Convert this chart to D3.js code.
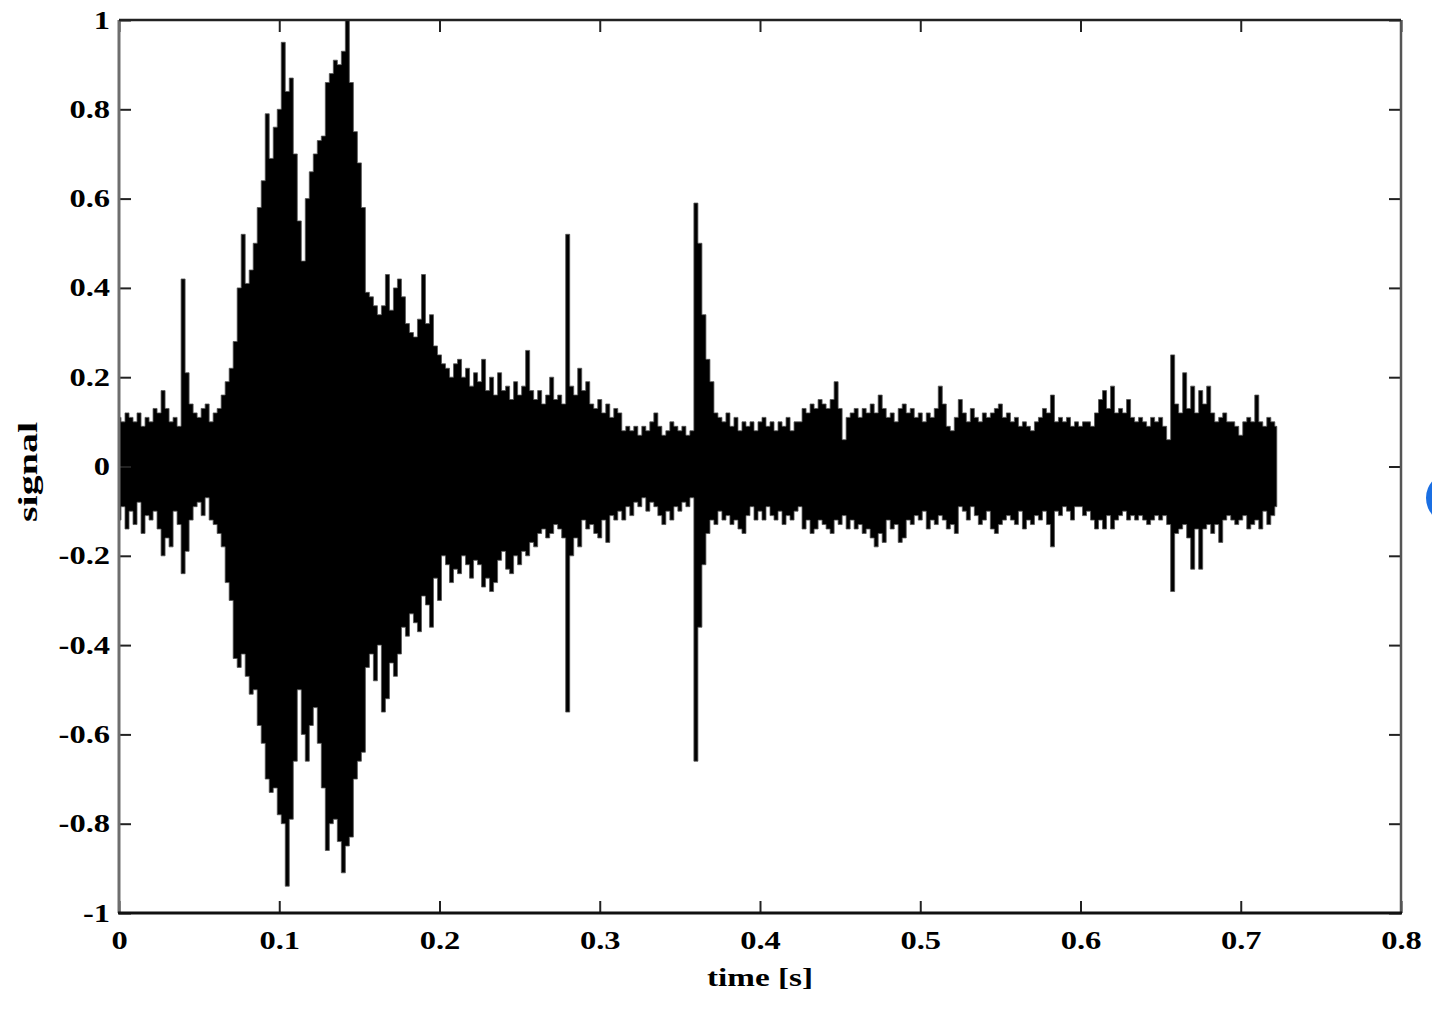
<!DOCTYPE html>
<html><head><meta charset="utf-8">
<script src="https://cdn.jsdelivr.net/npm/d3@7"></script>
<style>html,body{margin:0;padding:0;background:#fff;}svg{display:block}</style>
</head><body>
<svg id="chart" width="1432" height="1012"></svg>
<script>
// envelope readings of the signal, one reading every 2.5 ms from t = 0
const timeStep = 0.0025;
const upperEnv = [
0.11,0.10,0.12,0.11,0.10,0.12,0.09,0.11,0.10,0.13,
0.12,0.17,0.13,0.10,0.11,0.09,0.42,0.21,0.14,0.12,
0.11,0.13,0.14,0.10,0.12,0.13,0.16,0.19,0.22,0.28,
0.40,0.52,0.41,0.44,0.50,0.58,0.64,0.79,0.69,0.76,
0.80,0.95,0.84,0.87,0.70,0.55,0.46,0.60,0.66,0.70,
0.73,0.74,0.86,0.88,0.91,0.90,0.93,1.00,0.86,0.75,
0.68,0.58,0.39,0.38,0.36,0.34,0.36,0.43,0.35,0.40,
0.42,0.38,0.32,0.30,0.29,0.33,0.43,0.32,0.34,0.27,
0.25,0.23,0.22,0.20,0.23,0.24,0.20,0.22,0.18,0.21,
0.19,0.24,0.17,0.20,0.16,0.21,0.17,0.18,0.15,0.19,
0.16,0.18,0.26,0.17,0.15,0.17,0.14,0.16,0.20,0.15,
0.16,0.14,0.52,0.18,0.16,0.22,0.17,0.19,0.14,0.13,
0.15,0.12,0.14,0.11,0.13,0.12,0.08,0.09,0.08,0.09,
0.07,0.09,0.08,0.10,0.12,0.09,0.07,0.08,0.10,0.09,
0.08,0.09,0.07,0.08,0.59,0.50,0.34,0.24,0.19,0.12,
0.11,0.10,0.12,0.09,0.11,0.08,0.10,0.09,0.10,0.08,
0.10,0.11,0.09,0.10,0.08,0.10,0.09,0.11,0.08,0.10,
0.10,0.13,0.12,0.14,0.13,0.15,0.14,0.13,0.15,0.19,
0.13,0.06,0.11,0.12,0.13,0.11,0.13,0.12,0.14,0.12,
0.16,0.13,0.11,0.12,0.10,0.13,0.14,0.12,0.13,0.11,
0.12,0.10,0.12,0.11,0.13,0.18,0.14,0.09,0.08,0.11,
0.15,0.12,0.10,0.13,0.11,0.10,0.12,0.11,0.12,0.13,
0.14,0.11,0.12,0.10,0.11,0.09,0.10,0.09,0.08,0.10,
0.11,0.13,0.12,0.16,0.10,0.11,0.10,0.11,0.09,0.10,
0.09,0.10,0.10,0.09,0.12,0.15,0.17,0.13,0.18,0.12,
0.13,0.12,0.15,0.11,0.10,0.11,0.10,0.09,0.11,0.10,
0.11,0.09,0.06,0.25,0.14,0.12,0.21,0.13,0.18,0.12,
0.17,0.14,0.18,0.12,0.10,0.11,0.12,0.10,0.10,0.09,
0.07,0.10,0.11,0.10,0.16,0.10,0.09,0.11,0.10,0.09
];
const lowerEnv = [
-0.12,-0.09,-0.14,-0.10,-0.13,-0.08,-0.15,-0.11,-0.12,-0.10,
-0.14,-0.20,-0.16,-0.18,-0.10,-0.13,-0.24,-0.19,-0.12,-0.09,
-0.08,-0.11,-0.07,-0.12,-0.13,-0.15,-0.18,-0.26,-0.30,-0.43,
-0.45,-0.42,-0.47,-0.51,-0.50,-0.58,-0.62,-0.70,-0.73,-0.72,
-0.78,-0.80,-0.94,-0.79,-0.66,-0.50,-0.60,-0.66,-0.58,-0.54,
-0.62,-0.72,-0.86,-0.80,-0.79,-0.84,-0.91,-0.85,-0.83,-0.70,
-0.66,-0.64,-0.45,-0.42,-0.48,-0.40,-0.55,-0.52,-0.44,-0.47,
-0.42,-0.36,-0.38,-0.33,-0.35,-0.37,-0.29,-0.31,-0.36,-0.25,
-0.30,-0.20,-0.22,-0.26,-0.23,-0.24,-0.20,-0.22,-0.25,-0.21,
-0.22,-0.27,-0.25,-0.28,-0.26,-0.21,-0.19,-0.23,-0.24,-0.20,
-0.22,-0.19,-0.20,-0.17,-0.18,-0.15,-0.14,-0.16,-0.15,-0.13,
-0.14,-0.16,-0.55,-0.20,-0.16,-0.18,-0.12,-0.14,-0.13,-0.15,
-0.16,-0.12,-0.17,-0.11,-0.12,-0.10,-0.12,-0.09,-0.11,-0.08,
-0.09,-0.07,-0.10,-0.08,-0.09,-0.11,-0.13,-0.10,-0.12,-0.09,
-0.10,-0.08,-0.09,-0.07,-0.66,-0.36,-0.22,-0.15,-0.12,-0.13,
-0.10,-0.12,-0.11,-0.13,-0.12,-0.14,-0.15,-0.11,-0.09,-0.12,
-0.10,-0.12,-0.09,-0.11,-0.12,-0.10,-0.13,-0.11,-0.12,-0.10,
-0.09,-0.14,-0.12,-0.15,-0.14,-0.12,-0.13,-0.14,-0.15,-0.12,
-0.13,-0.11,-0.14,-0.12,-0.14,-0.13,-0.15,-0.14,-0.16,-0.18,
-0.15,-0.17,-0.12,-0.14,-0.13,-0.17,-0.16,-0.12,-0.13,-0.11,
-0.12,-0.10,-0.14,-0.12,-0.13,-0.11,-0.12,-0.14,-0.13,-0.15,
-0.09,-0.10,-0.12,-0.09,-0.11,-0.13,-0.12,-0.10,-0.14,-0.15,
-0.13,-0.12,-0.11,-0.12,-0.13,-0.10,-0.14,-0.12,-0.13,-0.11,
-0.12,-0.10,-0.13,-0.18,-0.10,-0.11,-0.09,-0.10,-0.12,-0.09,
-0.09,-0.11,-0.10,-0.12,-0.14,-0.12,-0.14,-0.11,-0.14,-0.12,
-0.11,-0.10,-0.12,-0.11,-0.12,-0.11,-0.12,-0.13,-0.12,-0.11,
-0.12,-0.11,-0.13,-0.28,-0.15,-0.14,-0.13,-0.16,-0.23,-0.14,
-0.23,-0.14,-0.13,-0.15,-0.13,-0.17,-0.12,-0.11,-0.12,-0.13,
-0.12,-0.11,-0.14,-0.13,-0.12,-0.14,-0.10,-0.13,-0.11,-0.09
];
const xTicks = [0, 0.1, 0.2, 0.3, 0.4, 0.5, 0.6, 0.7, 0.8];
const xTickLabels = ["0", "0.1", "0.2", "0.3", "0.4", "0.5", "0.6", "0.7", "0.8"];
const yTicks = [-1, -0.8, -0.6, -0.4, -0.2, 0, 0.2, 0.4, 0.6, 0.8, 1];
const yTickLabels = ["-1", "-0.8", "-0.6", "-0.4", "-0.2", "0", "0.2", "0.4", "0.6", "0.8", "1"];
const xTitle = "time [s]";
const yTitle = "signal";

const svg = d3.select("#chart");
const L = 119, R = 1401, T = 20, B = 913;
const x = d3.scaleLinear().domain([0, 0.8]).range([L, R]);
const y = d3.scaleLinear().domain([-1, 1]).range([B, T]);

const samples = upperEnv.map((hi, i) => ({ t: i * timeStep, hi: hi, lo: lowerEnv[i] }));

// waveform envelope
const area = d3.area()
  .x(d => x(d.t)).y0(d => y(d.lo)).y1(d => y(d.hi))
  .curve(d3.curveStep);
svg.append("path").datum(samples).attr("d", area)
  .attr("fill", "#000").attr("stroke", "#555").attr("stroke-width", 0.8);

const FONT = "'Liberation Serif', 'Times New Roman', serif";
const STRETCH = 1.3;
function styleText(sel, size) {
  sel.selectAll("text")
    .attr("font-family", FONT).attr("font-weight", "bold")
    .attr("font-size", size).attr("fill", "#000")
    .each(function () {
      const w = this.getComputedTextLength();
      this.setAttribute("textLength", w * STRETCH);
      this.setAttribute("lengthAdjust", "spacingAndGlyphs");
    });
}

// axes with inward ticks
const gB = svg.append("g").attr("transform", `translate(0,${B})`)
  .call(d3.axisBottom(x).tickValues(xTicks).tickFormat((d, i) => xTickLabels[i])
    .tickSizeInner(-12).tickSizeOuter(0).tickPadding(18));
const gL = svg.append("g").attr("transform", `translate(${L},0)`)
  .call(d3.axisLeft(y).tickValues(yTicks).tickFormat((d, i) => yTickLabels[i])
    .tickSizeInner(-12).tickSizeOuter(0).tickPadding(9));
const gT = svg.append("g").attr("transform", `translate(0,${T})`)
  .call(d3.axisTop(x).tickValues(xTicks).tickFormat("").tickSizeInner(-12).tickSizeOuter(0));
const gR = svg.append("g").attr("transform", `translate(${R},0)`)
  .call(d3.axisRight(y).tickValues(yTicks).tickFormat("").tickSizeInner(-12).tickSizeOuter(0));
[gB, gL, gT, gR].forEach(g => {
  g.select(".domain").remove();
  g.selectAll(".tick line").attr("stroke", "#222").attr("stroke-width", 2);
});
styleText(gB, 25);
styleText(gL, 25);

// frame
svg.append("line").attr("x1", L).attr("x2", L).attr("y1", T).attr("y2", B).attr("stroke", "#6e6e6e").attr("stroke-width", 3);
svg.append("line").attr("x1", R).attr("x2", R).attr("y1", T).attr("y2", B).attr("stroke", "#555").attr("stroke-width", 2.5);
svg.append("line").attr("x1", L).attr("x2", R).attr("y1", T).attr("y2", T).attr("stroke", "#222").attr("stroke-width", 2.5);
svg.append("line").attr("x1", L - 1).attr("x2", R + 1).attr("y1", B).attr("y2", B).attr("stroke", "#111").attr("stroke-width", 3);

// axis titles
svg.append("text").attr("x", (L + R) / 2).attr("y", 986)
  .attr("text-anchor", "middle").attr("font-family", FONT).attr("font-weight", "bold")
  .attr("font-size", 25).attr("textLength", 106).attr("lengthAdjust", "spacingAndGlyphs")
  .text(xTitle);
svg.append("text").attr("transform", "translate(37,472) rotate(-90)")
  .attr("text-anchor", "middle").attr("font-family", FONT).attr("font-weight", "bold")
  .attr("font-size", 27).attr("textLength", 100).attr("lengthAdjust", "spacingAndGlyphs")
  .text(yTitle);

// blue marker partly visible at the right edge
svg.append("circle").attr("cx", 1452).attr("cy", 498).attr("r", 26).attr("fill", "#1a6fe3");
</script>
</body></html>
